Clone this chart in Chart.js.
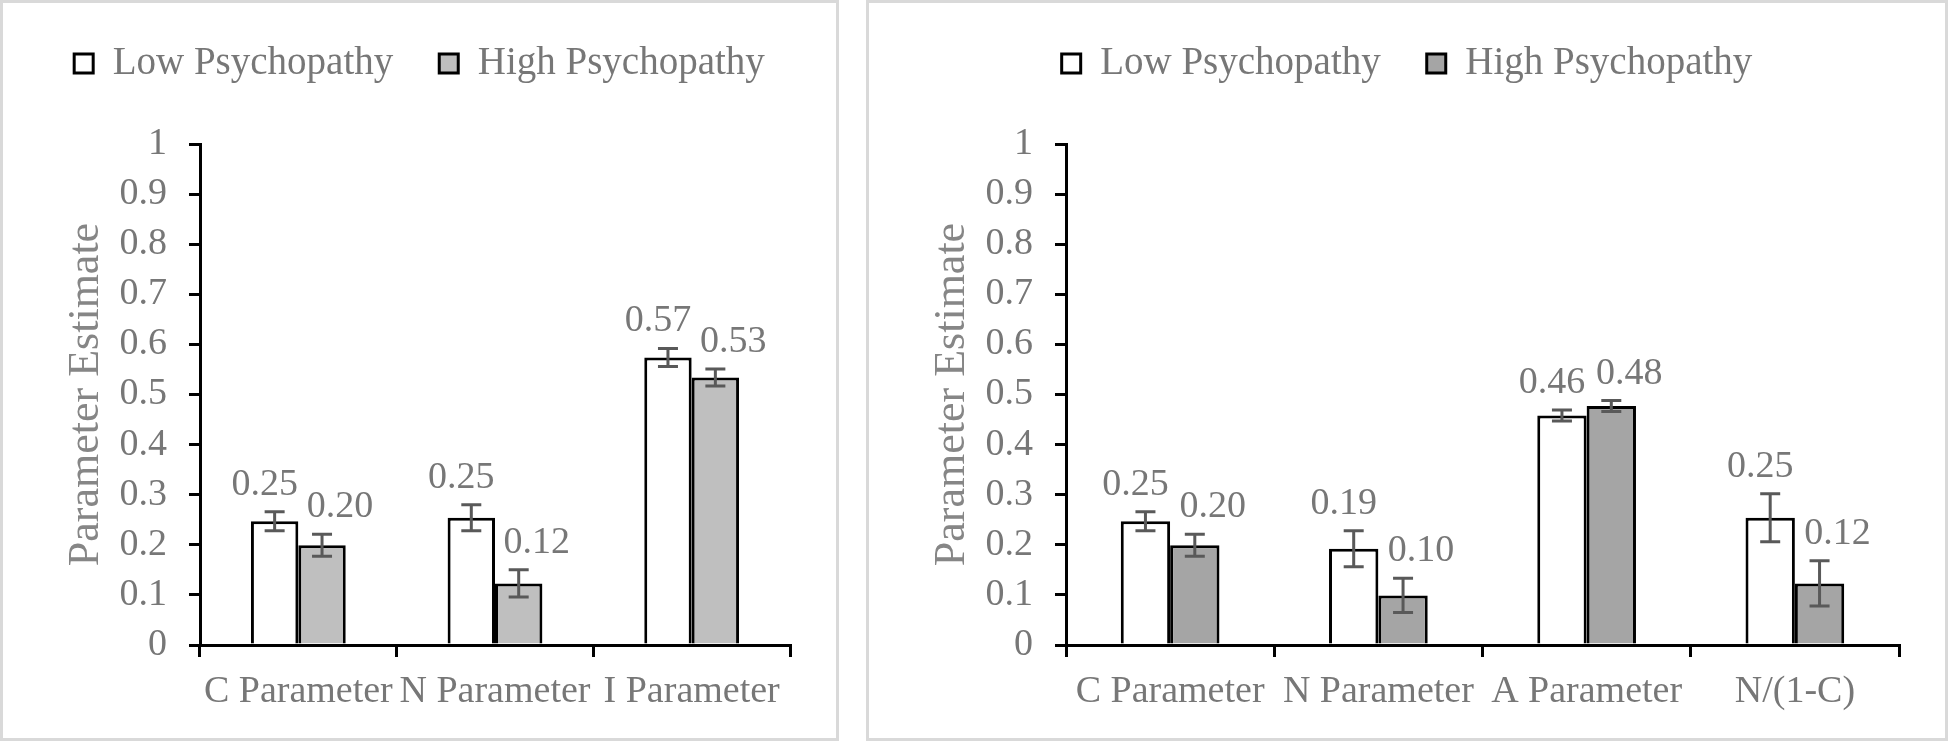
<!DOCTYPE html>
<html>
<head>
<meta charset="utf-8">
<script src="https://cdn.jsdelivr.net/npm/chart.js@4.4.1/dist/chart.umd.min.js"></script>
<style>
  html, body { margin: 0; padding: 0; background: #fff; }
  .panel { position: absolute; top: 0; border: 3px solid #d9d9d9; box-sizing: border-box; background: #fff; }
  #panelLeft { left: 0; width: 839px; height: 741px; }
  #panelRight { left: 866px; width: 1082px; height: 741px; }
  canvas { display: block; }
</style>
</head>
<body>
<div class="panel" id="panelLeft"><canvas id="leftChart" width="833" height="735"></canvas></div>
<div class="panel" id="panelRight"><canvas id="rightChart" width="1076" height="735"></canvas></div>
<script>
// ---- data ----
const seriesNames = ['Low Psychopathy', 'High Psychopathy'];
const yTickLabels = ['0', '0.1', '0.2', '0.3', '0.4', '0.5', '0.6', '0.7', '0.8', '0.9', '1'];

// left panel
const leftCategories = ['C Parameter', 'N Parameter', 'I Parameter'];
const leftLow = [0.247, 0.254, 0.574];
const leftHigh = [0.199, 0.123, 0.534];
const leftLowErr = [0.019, 0.026, 0.018];
const leftHighErr = [0.022, 0.027, 0.017];

// right panel
const rightCategories = ['C Parameter', 'N Parameter', 'A Parameter', 'N/(1-C)'];
const rightLow = [0.247, 0.192, 0.458, 0.254];
const rightHigh = [0.199, 0.099, 0.477, 0.123];
const rightLowErr = [0.019, 0.036, 0.011, 0.048];
const rightHighErr = [0.022, 0.034, 0.011, 0.045];

const FONT = '"Liberation Serif", "Times New Roman", serif';
const GREY_TEXT = '#777777';

Chart.defaults.font.family = FONT;
Chart.defaults.color = GREY_TEXT;

// error bars + value labels, drawn with the y scale of the chart
const errorBarPlugin = {
  id: 'errorBars',
  afterDatasetsDraw(chart, args, opts) {
    const ctx = chart.ctx;
    const yScale = chart.scales.y;
    chart.data.datasets.forEach((ds, i) => {
      const meta = chart.getDatasetMeta(i);
      meta.data.forEach((bar, j) => {
        const v = ds.data[j];
        const e = ds.errors[j];
        const yTop = yScale.getPixelForValue(v + e);
        const yBot = yScale.getPixelForValue(v - e);
        ctx.save();
        ctx.strokeStyle = '#595959';
        ctx.lineWidth = 3;
        ctx.beginPath();
        ctx.moveTo(bar.x, yTop); ctx.lineTo(bar.x, yBot);
        ctx.moveTo(bar.x - 10, yTop); ctx.lineTo(bar.x + 10, yTop);
        ctx.moveTo(bar.x - 10, yBot); ctx.lineTo(bar.x + 10, yBot);
        ctx.stroke();
        ctx.fillStyle = GREY_TEXT;
        ctx.font = '38px ' + FONT;
        ctx.textAlign = 'center';
        ctx.textBaseline = 'alphabetic';
        ctx.fillText(v.toFixed(2), bar.x + opts.labelShift[i], yTop - 17);
        ctx.restore();
      });
    });
  }
};

function makeChart(canvasId, categories, low, high, lowErr, highErr, highColor, catPct) {
  const ctx = document.getElementById(canvasId).getContext('2d');
  return new Chart(ctx, {
    type: 'bar',
    data: {
      labels: categories,
      datasets: [
        {
          label: seriesNames[0],
          data: low,
          errors: lowErr,
          backgroundColor: '#ffffff',
          borderColor: '#000000',
          borderWidth: 3
        },
        {
          label: seriesNames[1],
          data: high,
          errors: highErr,
          backgroundColor: highColor,
          borderColor: '#000000',
          borderWidth: 3
        }
      ]
    },
    options: {
      responsive: false,
      animation: false,
      devicePixelRatio: 1,
      layout: { padding: { top: -5, left: 0, right: 0, bottom: 0 } },
      datasets: {
        bar: { categoryPercentage: catPct, barPercentage: 1 }
      },
      plugins: {
        legend: {
          position: 'top',
          weight: 1000,
          labels: {
            font: { size: 39 },
            color: GREY_TEXT,
            boxWidth: 19,
            boxHeight: 19,
            padding: 46
          }
        },
        // empty title used as spacing between legend and plot
        title: {
          display: true,
          text: '',
          weight: 500,
          font: { size: 10 },
          padding: { top: 0, bottom: 39 }
        },
        tooltip: { enabled: false },
        errorBars: { labelShift: [-10, 18] }
      },
      scales: {
        x: {
          grid: {
            drawOnChartArea: false,
            drawTicks: true,
            tickLength: 12,
            color: '#000000',
            lineWidth: 3
          },
          border: { display: true, color: '#000000', width: 3 },
          ticks: {
            font: { size: 38 },
            color: GREY_TEXT,
            padding: 12,
            autoSkip: false,
            maxRotation: 0,
            minRotation: 0
          },
          afterFit(scale) { scale.height = 93; }
        },
        y: {
          min: 0,
          max: 1,
          grid: {
            drawOnChartArea: false,
            drawTicks: true,
            tickLength: 11,
            color: '#000000',
            lineWidth: 3
          },
          border: { display: true, color: '#000000', width: 3 },
          ticks: {
            stepSize: 0.1,
            font: { size: 38 },
            color: GREY_TEXT,
            padding: 22,
            callback: (value, index) => yTickLabels[index]
          },
          title: {
            display: true,
            text: 'Parameter Estimate',
            font: { size: 44 },
            color: '#868686',
            padding: { top: 57, bottom: 0 }
          },
          afterFit(scale) { scale.width = 197; }
        },
        // blank strip on the right so the legend stays centred on the panel
        rightGap: {
          type: 'linear',
          position: 'right',
          grid: { display: false },
          border: { display: false },
          ticks: { display: false },
          afterFit(scale) { scale.width = 46; }
        }
      }
    },
    plugins: [errorBarPlugin]
  });
}

makeChart('leftChart', leftCategories, leftLow, leftHigh, leftLowErr, leftHighErr, '#bfbfbf', 0.482);
makeChart('rightChart', rightCategories, rightLow, rightHigh, rightLowErr, rightHighErr, '#a5a5a5', 0.474);
</script>
</body>
</html>
